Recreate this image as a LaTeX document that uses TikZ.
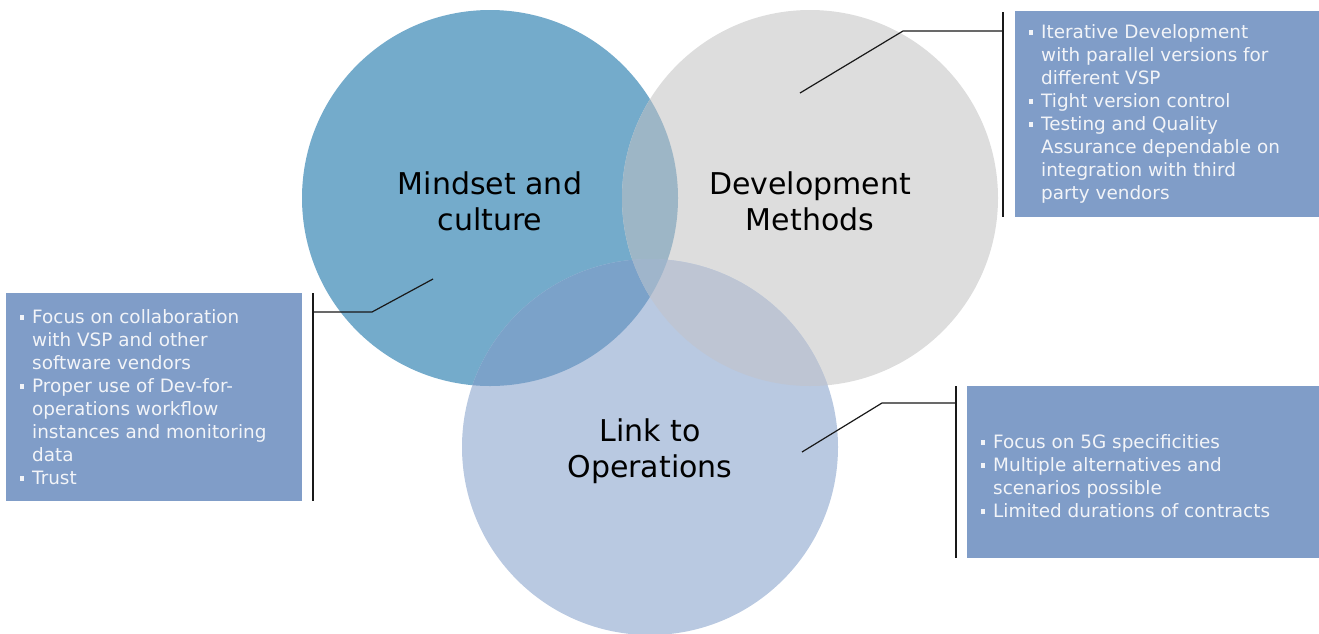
\documentclass[tikz,border=0pt]{standalone}
\usepackage{fontspec}
\setmainfont{DejaVu Sans}
\usetikzlibrary{positioning}
\definecolor{mindblue}{HTML}{74ABCB}
\definecolor{devgray}{HTML}{DDDDDD}
\definecolor{opsblue}{HTML}{B9C9E1}
\definecolor{mindxdev}{HTML}{9DB6C6}
\definecolor{mindxops}{HTML}{7BA2C9}
\definecolor{devxops}{HTML}{BEC5D3}
\definecolor{allthree}{HTML}{9FB5CB}
\definecolor{boxblue}{HTML}{809DC8}
\definecolor{boxtext}{HTML}{F2F4F8}
\newcommand{\bl}{\makebox[12pt][l]{\rule[4pt]{4pt}{4.5pt}}}
\newcommand{\ind}{\hspace*{12pt}}

\begin{document}
\begin{tikzpicture}[x=1pt,y=-1pt,
    bubble/.style={circle,minimum size=376pt,inner sep=0pt},
    lbl/.style={font=\fontsize{30}{36}\selectfont,align=center,text=black},
    infobox/.style={fill=boxblue,inner sep=0pt,anchor=north west},
    infotext/.style={font=\fontsize{18.4}{23}\selectfont,text=boxtext,align=left,inner sep=0pt,anchor=west},
    callout/.style={line width=1.2pt,black!90}]
  \useasboundingbox (0,0) rectangle (1319,633);
  \clip (0,0) rectangle (1319,633);

  % the three circles
  \node[bubble,fill=mindblue] (mind) at (490,198) {};
  \node[bubble,fill=devgray] (dev) at (810,198) {};
  \node[bubble,fill=opsblue] (ops) at (650,447) {};
  % overlaps
  \begin{scope}
    \clip (490,198) circle (188pt);
    \fill[mindxdev] (810,198) circle (188pt);
    \fill[mindxops] (650,447) circle (188pt);
  \end{scope}
  \begin{scope}
    \clip (810,198) circle (188pt);
    \fill[devxops] (650,447) circle (188pt);
  \end{scope}
  \begin{scope}
    \clip (490,198) circle (188pt);
    \clip (810,198) circle (188pt);
    \fill[allthree] (650,447) circle (188pt);
  \end{scope}

  \node[lbl] (mindlbl) at (490,201) {Mindset and\\culture};
  \node[lbl] (devlbl) at (810,201) {Development\\Methods};
  \node[lbl] (opslbl) at (650,451) {Link to\\Operations};

  % boxes
  \node[infobox,minimum width=304pt,minimum height=206pt] (devbox) at (1015,11) {};
  \node[infotext] (devtxt) at ([xshift=14pt]devbox.west) {\bl Iterative Development\\
    \ind with parallel versions for\\
    \ind different VSP\\
    \bl Tight version control\\
    \bl Testing and Quality\\
    \ind Assurance dependable on\\
    \ind integration with third\\
    \ind party vendors};
  \node[infobox,minimum width=296pt,minimum height=208pt] (mindbox) at (6,293) {};
  \node[infotext] (mindtxt) at ([xshift=14pt]mindbox.west) {\bl Focus on collaboration\\
    \ind with VSP and other\\
    \ind software vendors\\
    \bl Proper use of Dev-for-\\
    \ind operations workflow\\
    \ind instances and monitoring\\
    \ind data\\
    \bl Trust};
  \node[infobox,minimum width=352pt,minimum height=172pt] (opsbox) at (967,386) {};
  \node[infotext] (opstxt) at ([xshift=14pt,yshift=-4pt]opsbox.west) {\bl Focus on 5G specificities\\
    \bl Multiple alternatives and\\
    \ind scenarios possible\\
    \bl Limited durations of contracts};

  % callouts
  \coordinate (devtip) at (800,93);
  \coordinate (devknee) at (903,31);
  \coordinate (devbra) at (1003,12);
  \coordinate (devbrb) at (1003,217);
  \draw[callout] (devtip) -- (devknee) -- (devknee -| devbra);
  \draw[callout,line width=1.5pt] (devbra) -- (devbrb);
  \coordinate (mindtip) at (433,279);
  \coordinate (mindknee) at (372,312);
  \coordinate (mindbra) at (313,293);
  \coordinate (mindbrb) at (313,501);
  \draw[callout] (mindtip) -- (mindknee) -- (mindknee -| mindbra);
  \draw[callout,line width=1.5pt] (mindbra) -- (mindbrb);
  \coordinate (opstip) at (802,452);
  \coordinate (opsknee) at (882,403);
  \coordinate (opsbra) at (956,386);
  \coordinate (opsbrb) at (956,558);
  \draw[callout] (opstip) -- (opsknee) -- (opsknee -| opsbra);
  \draw[callout,line width=1.5pt] (opsbra) -- (opsbrb);
\end{tikzpicture}
\end{document}
